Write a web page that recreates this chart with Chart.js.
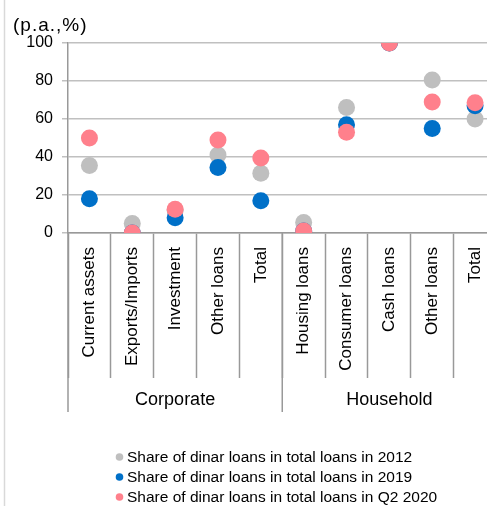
<!DOCTYPE html>
<html>
<head>
<meta charset="utf-8">
<script src="https://cdn.jsdelivr.net/npm/chart.js@4"></script>
<style>
  html, body { margin: 0; padding: 0; background: #fff; overflow: hidden; }
  canvas { display: block; }
</style>
</head>
<body>
<canvas id="loans" width="505" height="506"></canvas>
<script>
const categories = ['Current assets', 'Exports/Imports', 'Investment', 'Other loans', 'Total',
                    'Housing loans', 'Consumer loans', 'Cash loans', 'Other loans', 'Total'];
const groups = ['Corporate', 'Household'];
const groupSize = 5;
const share2012 = [35.5, 5, 12, 41, 31.5, 5.5, 66, 100, 80.5, 60];
const share2019 = [18, 0, 8, 34.5, 17, 1, 57, 100, 55, 67];
const shareQ2 = [50, 0, 12.5, 49, 39.5, 1, 53, 100, 69, 68.5];
const yTicks = [0, 20, 40, 60, 80, 100];

const FONT = '"Liberation Sans", Arial, sans-serif';

// unit label, left frame line, group row and legend
const extras = {
  id: 'extras',
  afterDraw(chart) {
    const ctx = chart.ctx;
    const x = chart.scales.x;
    const area = chart.chartArea;
    ctx.save();

    ctx.strokeStyle = '#d9d9d9';
    ctx.lineWidth = 1.5;
    ctx.beginPath();
    ctx.moveTo(4.5, 0);
    ctx.lineTo(4.5, chart.height);
    ctx.stroke();

    ctx.fillStyle = '#000';
    ctx.font = '19px ' + FONT;
    ctx.textAlign = 'left';
    ctx.textBaseline = 'alphabetic';
    if ('letterSpacing' in ctx) ctx.letterSpacing = '1px';
    ctx.fillText('(p.a.,%)', 13, 31);
    if ('letterSpacing' in ctx) ctx.letterSpacing = '0px';

    // longer separators between groups
    ctx.strokeStyle = '#999';
    ctx.lineWidth = 1.5;
    const step = x.getPixelForValue(1) - x.getPixelForValue(0);
    for (let g = 0; g <= groups.length; g++) {
      const bx = x.getPixelForValue(g * groupSize) - step / 2;
      ctx.beginPath();
      ctx.moveTo(bx, area.bottom);
      ctx.lineTo(bx, 412);
      ctx.stroke();
    }

    ctx.font = '18px ' + FONT;
    ctx.textAlign = 'center';
    ctx.textBaseline = 'middle';
    groups.forEach((name, g) => {
      const a = x.getPixelForValue(g * groupSize);
      const b = x.getPixelForValue(g * groupSize + groupSize - 1);
      ctx.fillText(name, (a + b) / 2, 400);
    });

    ctx.font = '15.5px ' + FONT;
    ctx.textAlign = 'left';
    chart.data.datasets.forEach((ds, i) => {
      const y = 457 + i * 20;
      ctx.fillStyle = ds.backgroundColor;
      ctx.beginPath();
      ctx.arc(119.5, y, 3.8, 0, Math.PI * 2);
      ctx.fill();
      ctx.fillStyle = '#000';
      ctx.fillText(ds.label, 127, y + 1);
    });
    ctx.restore();
  }
};

const dot = (label, data, color, order) => ({
  label, data, order,
  backgroundColor: color,
  borderColor: color,
  borderWidth: 0,
  showLine: false,
  pointRadius: 8.5,
  pointHoverRadius: 8.5
});

new Chart(document.getElementById('loans'), {
  type: 'line',
  data: {
    labels: categories,
    datasets: [
      dot('Share of dinar loans in total loans in 2012', share2012, '#bfbfbf', 3),
      dot('Share of dinar loans in total loans in 2019', share2019, '#0070c8', 2),
      dot('Share of dinar loans in total loans in Q2 2020', shareQ2, '#ff808c', 1)
    ]
  },
  options: {
    responsive: false,
    animation: false,
    layout: { padding: { top: 43, left: 0, right: 0, bottom: 0 } },
    plugins: {
      legend: { display: false },
      tooltip: { enabled: false }
    },
    scales: {
      x: {
        type: 'category',
        offset: true,
        afterFit(scale) { scale.height = 273; },
        grid: {
          offset: true,
          drawOnChartArea: false,
          tickLength: 145,
          tickColor: '#999',
          tickWidth: 1.5
        },
        border: { color: '#999', width: 1.5 },
        ticks: {
          autoSkip: false,
          minRotation: 90,
          maxRotation: 90,
          padding: -131,
          color: '#000',
          font: { family: FONT, size: 17 }
        }
      },
      y: {
        min: 0,
        max: 100,
        afterFit(scale) { scale.width = 68; },
        afterBuildTicks(scale) { scale.ticks = yTicks.map(v => ({ value: v })); },
        grid: {
          color: '#c0c0c0',
          lineWidth: 1.5,
          tickLength: 6,
          tickColor: '#c0c0c0'
        },
        border: { color: '#999', width: 1.5 },
        ticks: {
          padding: 9,
          color: '#000',
          font: { family: FONT, size: 16 }
        }
      }
    }
  },
  plugins: [extras]
});
</script>
</body>
</html>
